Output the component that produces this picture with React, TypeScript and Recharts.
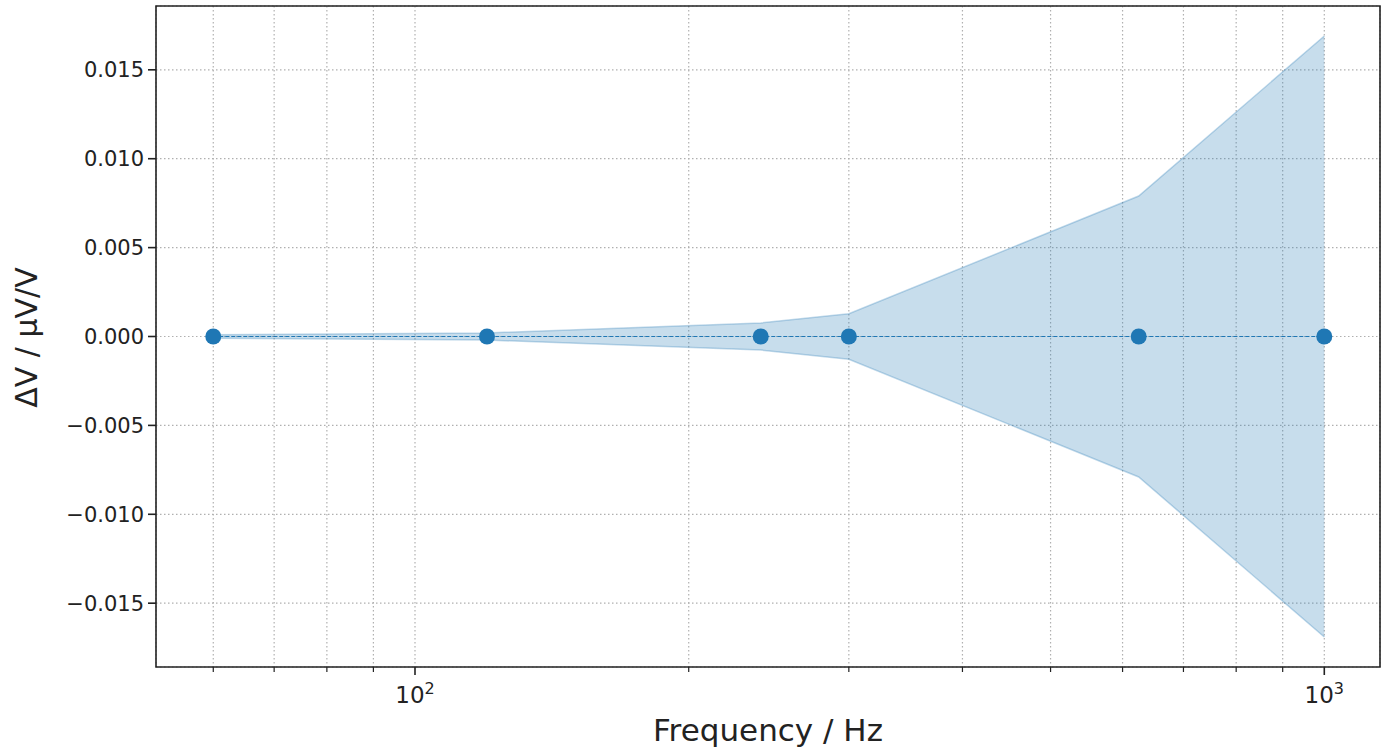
import React from 'react';
import {
  ComposedChart,
  Area,
  Line,
  XAxis,
  YAxis,
  CartesianGrid,
  ReferenceArea,
  Label,
} from 'recharts';

// ---- data ----
const frequencies = [60, 120, 240, 300, 625, 1000];
const deltaV = [0, 0, 0, 0, 0, 0];
const uncertainty = [0.0001, 0.0002, 0.00076, 0.00128, 0.0079, 0.0169];

const xTicks = [60, 70, 80, 90, 100, 200, 300, 400, 500, 600, 700, 800, 900, 1000];
const xMajorTicks = [100, 1000];
const yTicks = [-0.015, -0.01, -0.005, 0, 0.005, 0.01, 0.015];

const xDomain = [51.9, 1151.5];
const yDomain = [-0.01859, 0.01859];

const xLabel = 'Frequency / Hz';
const yLabel = 'ΔV / μV/V';

const data = frequencies.map((f, i) => ({
  f,
  dv: deltaV[i],
  band: [deltaV[i] - uncertainty[i], deltaV[i] + uncertainty[i]],
}));

const FONT = 'DejaVu Sans';
const BLUE = '#1f77b4';
const INK = '#222222';

const fmtY = (v: number) => {
  const s = Math.abs(v) < 1e-12 ? '0.000' : v.toFixed(3);
  return s.replace('-', '\u2212');
};

const XTick = (props: any) => {
  const { x, y, payload } = props;
  const v = payload.value;
  const major = xMajorTicks.includes(v);
  const exp = Math.round(Math.log10(v));
  return (
    <g>
      <line
        x1={x}
        x2={x}
        y1={y}
        y2={y + (major ? 8 : 5)}
        stroke={INK}
        strokeWidth={major ? 1.6 : 1.2}
      />
      {major && (
        <text
          x={x}
          y={y + 36}
          textAnchor="middle"
          fontSize={23}
          fill={INK}
          fontFamily={FONT}
        >
          10
          <tspan fontSize={16} dy={-9}>
            {exp}
          </tspan>
        </text>
      )}
    </g>
  );
};

const YTick = (props: any) => {
  const { x, y, payload } = props;
  return (
    <g>
      <line x1={x - 8} x2={x} y1={y} y2={y} stroke={INK} strokeWidth={1.6} />
      <text
        x={x - 12}
        y={y}
        dy="0.36em"
        textAnchor="end"
        fontSize={21}
        fill={INK}
        fontFamily={FONT}
      >
        {fmtY(payload.value)}
      </text>
    </g>
  );
};

export default function App() {
  return (
    <div style={{ position: 'absolute', left: 0, top: 0, width: 1394, height: 751, background: '#fff' }}>
      <ComposedChart
        width={1394}
        height={751}
        data={data}
        margin={{ top: 6, right: 14, left: 0, bottom: 0 }}
      >
        <CartesianGrid stroke="#b0b0b0" strokeDasharray="1.5 2.5" strokeWidth={1.2} />
        <XAxis
          dataKey="f"
          type="number"
          scale="log"
          domain={xDomain}
          allowDataOverflow
          ticks={xTicks}
          interval={0}
          tickSize={0}
          tickMargin={0}
          tickLine={false}
          axisLine={false}
          tick={<XTick />}
          height={84}
        >
          <Label
            content={() => (
              <text
                x={768}
                y={741}
                textAnchor="middle"
                fontSize={31}
                fill={INK}
                fontFamily={FONT}
              >
                {xLabel}
              </text>
            )}
          />
        </XAxis>
        <YAxis
          type="number"
          domain={yDomain}
          allowDataOverflow
          ticks={yTicks}
          interval={0}
          tickSize={0}
          tickMargin={0}
          tickLine={false}
          axisLine={false}
          tick={<YTick />}
          width={156}
        >
          <Label
            content={() => (
              <text
                x={37}
                y={337.5}
                textAnchor="middle"
                fontSize={30}
                fill={INK}
                fontFamily={FONT}
                transform="rotate(-90, 37, 337.5)"
              >
                {yLabel}
              </text>
            )}
          />
        </YAxis>
        <Area
          type="linear"
          dataKey="band"
          fill={BLUE}
          fillOpacity={0.25}
          stroke={BLUE}
          strokeOpacity={0.28}
          strokeWidth={1.5}
          isAnimationActive={false}
          activeDot={false}
          dot={false}
        />
        <Line
          type="linear"
          dataKey="dv"
          stroke={BLUE}
          strokeWidth={1}
          strokeDasharray="4 2"
          dot={{ r: 8, fill: BLUE, stroke: 'none', strokeWidth: 0 }}
          activeDot={false}
          isAnimationActive={false}
        />
        <ReferenceArea
          x1={xDomain[0]}
          x2={xDomain[1]}
          y1={yDomain[0]}
          y2={yDomain[1]}
          fill="none"
          fillOpacity={0}
          stroke={INK}
          strokeWidth={1.6}
          ifOverflow="visible"
        />
      </ComposedChart>
    </div>
  );
}
